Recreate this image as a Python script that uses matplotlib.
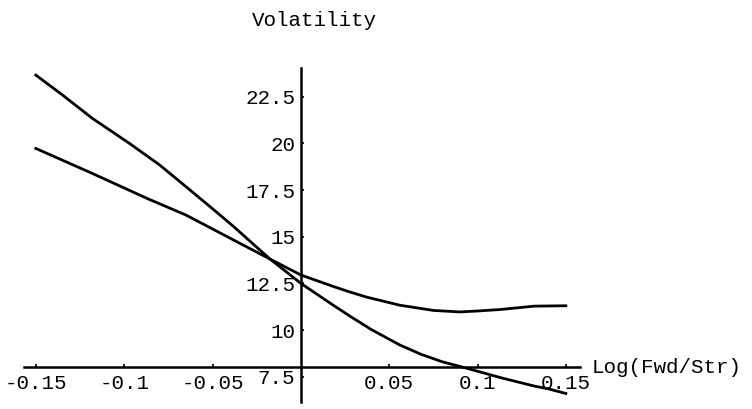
import matplotlib
matplotlib.use("Agg")
import matplotlib.pyplot as plt

# =============================
# DATOS
# =============================
x_steep = [-0.15, -0.135, -0.118, -0.097, -0.08, -0.065, -0.05, -0.038, -0.025,
           -0.0174, -0.01, 0.0, 0.0185, 0.028, 0.04, 0.056, 0.068, 0.08,
           0.094, 0.113, 0.132, 0.14, 0.15]
vol_steep = [23.66, 22.6, 21.34, 20.0, 18.85, 17.68, 16.5, 15.54, 14.44,
             13.8, 13.25, 12.5, 11.32, 10.73, 10.02, 9.2, 8.7, 8.3,
             7.95, 7.45, 7.0, 6.85, 6.6]

x_flat = [-0.15, -0.118, -0.087, -0.065, -0.038, -0.0174, 0.0, 0.0185, 0.028,
          0.0374, 0.056, 0.075, 0.09, 0.1, 0.113, 0.132, 0.15]
vol_flat = [19.73, 18.39, 17.05, 16.16, 14.82, 13.8, 12.95, 12.33, 12.03,
            11.76, 11.33, 11.05, 10.97, 11.02, 11.1, 11.28, 11.3]

x_ticks = [-0.15, -0.1, -0.05, 0.05, 0.1, 0.15]
x_ticklabels = ["-0.15", "-0.1", "-0.05", "0.05", "0.1", "0.15"]
y_ticks = [7.5, 10, 12.5, 15, 17.5, 20, 22.5]
y_ticklabels = ["7.5", "10", "12.5", "15", "17.5", "20", "22.5"]

X_ORIGIN = 0.0
Y_ORIGIN = 8.0

# =============================
# GRÁFICO
# =============================
FONT = "Liberation Mono"
FS = 15

fig = plt.figure(figsize=(7.52, 4.09), dpi=100)
ax = fig.add_axes([24 / 752, (409 - 401.7) / 409, 556 / 752, (401.7 - 68) / 409])

ax.plot(x_steep, vol_steep, color="black", linewidth=2.0)
ax.plot(x_flat, vol_flat, color="black", linewidth=2.0)

ax.set_xlim(-0.1567, 0.158)
ax.set_ylim(6.16, 24.04)

# ejes tipo Mathematica
for side in ["top", "right"]:
    ax.spines[side].set_visible(False)
ax.spines["left"].set_position(("data", X_ORIGIN))
ax.spines["bottom"].set_position(("data", Y_ORIGIN))
ax.spines["left"].set_linewidth(1.8)
ax.spines["bottom"].set_linewidth(1.8)

ax.set_xticks(x_ticks)
ax.set_xticklabels(x_ticklabels, fontfamily=FONT, fontsize=FS)
ax.set_yticks(y_ticks)
ax.set_yticklabels(y_ticklabels, fontfamily=FONT, fontsize=FS)

ax.tick_params(axis="both", which="major", direction="in", length=2.5, width=1.2)
ax.tick_params(axis="x", which="major", pad=5)
ax.tick_params(axis="y", which="major", pad=4)

# etiquetas de los ejes
ax.text(0.158 + 0.0068, Y_ORIGIN, "Log(Fwd/Str)", fontfamily=FONT, fontsize=FS,
        ha="left", va="center", clip_on=False)
fig.text(314 / 752, 1 - 20 / 409, "Volatility", fontfamily=FONT, fontsize=FS,
         ha="center", va="center")

fig.savefig("out.png", dpi=100)
